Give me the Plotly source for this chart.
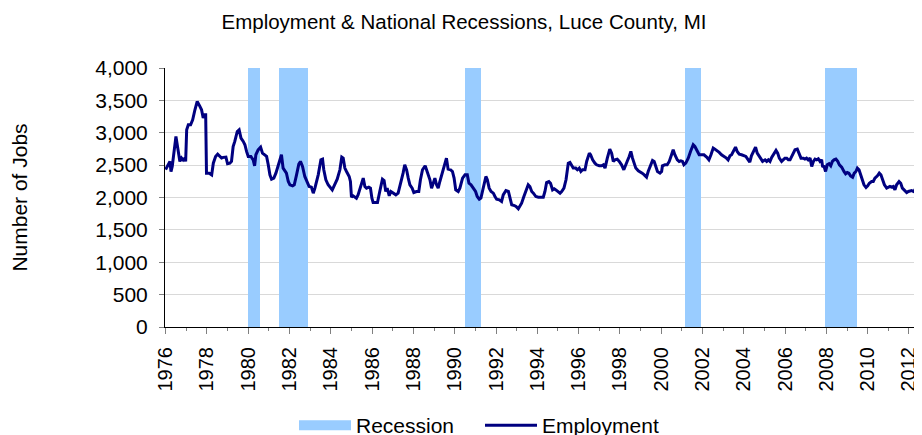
import plotly.graph_objects as go

# ---- data ----
emp_years = [
    1976.00, 1976.13, 1976.21, 1976.26, 1976.32, 1976.50, 1976.69, 1976.77, 1976.85, 1976.94,
    1976.97, 1977.02, 1977.10, 1977.21, 1977.31, 1977.42, 1977.53, 1977.66, 1977.74, 1977.82,
    1977.87, 1977.94, 1977.98, 1978.11, 1978.23, 1978.31, 1978.42, 1978.52, 1978.63, 1978.71,
    1978.79, 1978.92, 1979.00, 1979.11, 1979.19, 1979.27, 1979.35, 1979.47, 1979.56, 1979.65,
    1979.76, 1979.84, 1979.92, 1980.00, 1980.13, 1980.24, 1980.31, 1980.37, 1980.48, 1980.60,
    1980.69, 1980.81, 1980.89, 1980.97, 1981.05, 1981.13, 1981.24, 1981.34, 1981.45, 1981.56,
    1981.61, 1981.69, 1981.77, 1981.85, 1981.94, 1982.02, 1982.15, 1982.23, 1982.34, 1982.45,
    1982.53, 1982.63, 1982.74, 1982.85, 1982.95, 1983.06, 1983.15, 1983.23, 1983.39, 1983.52,
    1983.60, 1983.66, 1983.76, 1983.87, 1983.99, 1984.07, 1984.16, 1984.31, 1984.44, 1984.53,
    1984.60, 1984.68, 1984.76, 1984.89, 1984.95, 1985.00, 1985.08, 1985.16, 1985.24, 1985.32,
    1985.45, 1985.57, 1985.65, 1985.73, 1985.84, 1985.92, 1985.99, 1986.05, 1986.18, 1986.26,
    1986.37, 1986.50, 1986.58, 1986.66, 1986.73, 1986.83, 1986.91, 1987.02, 1987.15, 1987.26,
    1987.39, 1987.50, 1987.58, 1987.67, 1987.75, 1987.83, 1987.94, 1988.02, 1988.15, 1988.26,
    1988.34, 1988.44, 1988.57, 1988.63, 1988.71, 1988.80, 1988.88, 1988.96, 1989.04, 1989.12,
    1989.20, 1989.28, 1989.41, 1989.52, 1989.60, 1989.68, 1989.80, 1989.89, 1989.97, 1990.05,
    1990.17, 1990.25, 1990.38, 1990.50, 1990.61, 1990.69, 1990.79, 1990.90, 1991.01, 1991.09,
    1991.19, 1991.27, 1991.38, 1991.51, 1991.58, 1991.67, 1991.76, 1991.87, 1991.95, 1992.03,
    1992.16, 1992.27, 1992.35, 1992.48, 1992.60, 1992.68, 1992.76, 1992.89, 1992.97, 1993.08,
    1993.16, 1993.24, 1993.35, 1993.45, 1993.56, 1993.64, 1993.73, 1993.81, 1993.93, 1994.05,
    1994.16, 1994.29, 1994.37, 1994.45, 1994.56, 1994.64, 1994.74, 1994.82, 1994.90, 1994.98,
    1995.10, 1995.18, 1995.29, 1995.39, 1995.50, 1995.58, 1995.66, 1995.74, 1995.86, 1995.94,
    1996.03, 1996.11, 1996.19, 1996.31, 1996.39, 1996.52, 1996.58, 1996.68, 1996.79, 1996.87,
    1997.00, 1997.11, 1997.20, 1997.28, 1997.39, 1997.51, 1997.60, 1997.68, 1997.76, 1997.87,
    1997.97, 1998.08, 1998.19, 1998.27, 1998.35, 1998.45, 1998.53, 1998.61, 1998.69, 1998.77,
    1998.89, 1998.97, 1999.08, 1999.18, 1999.29, 1999.37, 1999.45, 1999.58, 1999.66, 1999.74,
    1999.82, 1999.94, 2000.02, 2000.06, 2000.18, 2000.29, 2000.39, 2000.50, 2000.58, 2000.66,
    2000.78, 2000.87, 2000.95, 2001.03, 2001.10, 2001.19, 2001.31, 2001.42, 2001.55, 2001.63,
    2001.74, 2001.84, 2001.95, 2002.07, 2002.20, 2002.31, 2002.41, 2002.52, 2002.60, 2002.71,
    2002.81, 2002.92, 2003.00, 2003.08, 2003.16, 2003.24, 2003.33, 2003.41, 2003.52, 2003.60,
    2003.68, 2003.78, 2003.89, 2004.00, 2004.10, 2004.18, 2004.29, 2004.37, 2004.49, 2004.57,
    2004.65, 2004.75, 2004.82, 2004.91, 2005.03, 2005.11, 2005.19, 2005.27, 2005.35, 2005.46,
    2005.56, 2005.64, 2005.72, 2005.83, 2005.91, 2005.99, 2006.08, 2006.16, 2006.24, 2006.32,
    2006.40, 2006.48, 2006.59, 2006.69, 2006.77, 2006.88, 2006.96, 2007.04, 2007.12, 2007.21,
    2007.29, 2007.37, 2007.45, 2007.53, 2007.61, 2007.69, 2007.77, 2007.82, 2007.88, 2007.96,
    2008.04, 2008.13, 2008.21, 2008.29, 2008.37, 2008.46, 2008.55, 2008.63, 2008.74, 2008.85,
    2008.93, 2009.01, 2009.09, 2009.17, 2009.27, 2009.35, 2009.43, 2009.50, 2009.58, 2009.66,
    2009.74, 2009.82, 2009.92, 2010.00, 2010.08, 2010.19, 2010.27, 2010.35, 2010.47, 2010.56,
    2010.64, 2010.72, 2010.81, 2010.92, 2011.00, 2011.08, 2011.16, 2011.24, 2011.32, 2011.40,
    2011.52, 2011.60, 2011.68, 2011.77, 2011.89, 2011.97, 2012.05, 2012.13, 2012.21, 2012.29,
    2012.37, 2012.45, 2012.53, 2012.61,
]

emp_jobs = [
    2430, 2505, 2557, 2400, 2480, 2943, 2557, 2610, 2580, 2610,
    2557, 3046, 3123, 3123, 3200, 3355, 3485, 3407, 3355, 3227,
    3278, 3278, 2376, 2376, 2350, 2530, 2634, 2670, 2634, 2610,
    2620, 2625, 2521, 2530, 2557, 2788, 2866, 3020, 3046, 2918,
    2866, 2815, 2712, 2634, 2634, 2582, 2490, 2660, 2737, 2778,
    2685, 2660, 2634, 2505, 2350, 2283, 2299, 2376, 2505, 2634,
    2660, 2454, 2402, 2376, 2247, 2196, 2180, 2196, 2350, 2515,
    2557, 2480, 2325, 2232, 2170, 2160, 2067, 2144, 2350, 2582,
    2593, 2428, 2273, 2196, 2144, 2118, 2180, 2283, 2428, 2624,
    2608, 2454, 2402, 2325, 2247, 2005, 2026, 2000, 1990, 2041,
    2196, 2299, 2170, 2144, 2160, 2144, 1990, 1923, 1923, 1923,
    2093, 2283, 2263, 2093, 2144, 2026, 2093, 2067, 2041, 2067,
    2221, 2376, 2505, 2428, 2299, 2196, 2144, 2077, 2093, 2093,
    2273, 2428, 2490, 2428, 2350, 2273, 2144, 2221, 2299, 2196,
    2144, 2247, 2402, 2557, 2608, 2438, 2428, 2402, 2300, 2118,
    2093, 2144, 2299, 2350, 2350, 2221, 2196, 2144, 2093, 2015,
    1974, 1990, 2144, 2325, 2273, 2144, 2093, 2067, 2015, 1974,
    1964, 1938, 2041, 2108, 2093, 1990, 1887, 1876, 1861, 1825,
    1861, 1912, 2015, 2118, 2196, 2170, 2093, 2067, 2015, 2005,
    2005, 2005, 2093, 2232, 2247, 2221, 2118, 2134, 2118, 2093,
    2067, 2093, 2144, 2273, 2530, 2541, 2505, 2454, 2454, 2428,
    2454, 2402, 2428, 2428, 2557, 2685, 2660, 2582, 2530, 2505,
    2490, 2490, 2505, 2454, 2608, 2747, 2685, 2557, 2582, 2593,
    2557, 2505, 2428, 2480, 2557, 2634, 2711, 2608, 2530, 2454,
    2412, 2402, 2376, 2350, 2314, 2402, 2480, 2572, 2557, 2480,
    2402, 2376, 2402, 2490, 2505, 2505, 2557, 2660, 2737, 2660,
    2582, 2557, 2567, 2557, 2505, 2530, 2608, 2711, 2815, 2788,
    2711, 2660, 2660, 2660, 2624, 2582, 2660, 2763, 2747, 2727,
    2696, 2660, 2644, 2624, 2608, 2582, 2644, 2660, 2737, 2778,
    2711, 2670, 2660, 2650, 2634, 2598, 2546, 2644, 2737, 2778,
    2685, 2634, 2608, 2557, 2582, 2557, 2582, 2557, 2618, 2685,
    2727, 2685, 2608, 2557, 2582, 2608, 2608, 2582, 2582, 2634,
    2711, 2737, 2747, 2660, 2608, 2608, 2593, 2608, 2582, 2608,
    2480, 2557, 2593, 2582, 2598, 2557, 2582, 2469, 2490, 2402,
    2505, 2521, 2490, 2557, 2582, 2593, 2557, 2505, 2469, 2402,
    2366, 2386, 2376, 2335, 2314, 2376, 2402, 2454, 2428, 2350,
    2263, 2196, 2155, 2180, 2221, 2247, 2247, 2299, 2335, 2376,
    2350, 2273, 2196, 2144, 2155, 2170, 2160, 2170, 2118, 2196,
    2247, 2221, 2144, 2108, 2077, 2093, 2103, 2108, 2093, 2118,
    2196, 2232, 2211, 2232,
]

rec_start = [1980.00, 1981.50, 1990.50, 2001.17, 2007.92]
rec_end = [1980.58, 1982.90, 1991.25, 2001.92, 2009.50]
rec_level = [4000, 4000, 4000, 4000, 4000]

x_ticks = list(range(1976, 2013, 2))
x_labels = [str(v) for v in x_ticks]
y_ticks = [0, 500, 1000, 1500, 2000, 2500, 3000, 3500, 4000]
y_labels = [f"{v:,}" for v in y_ticks]

FONT = "Liberation Sans, Arial, sans-serif"
W, H = 914, 427  # page body has an 8px margin; 8 + 914 = 922, 8 + 427 = 435

fig = go.Figure()
fig.add_trace(go.Bar(
    x=[(s + e) / 2 for s, e in zip(rec_start, rec_end)],
    y=rec_level,
    width=[e - s for s, e in zip(rec_start, rec_end)],
    marker=dict(color="#99CCFF", line=dict(width=0)),
    showlegend=False,
    hoverinfo="skip",
    name="Recession",
))
fig.add_trace(go.Scatter(
    x=[None], y=[None], mode="lines",
    line=dict(color="#99CCFF", width=11),
    name="Recession",
))
fig.add_trace(go.Scatter(
    x=emp_years, y=emp_jobs, mode="lines",
    line=dict(color="#000080", width=3),
    name="Employment",
))

fig.update_layout(
    width=W, height=H,
    margin=dict(l=157, r=0, t=60, b=108, autoexpand=False),
    paper_bgcolor="white", plot_bgcolor="white",
    font=dict(family=FONT, color="black", size=21),
    title=dict(
        text="Employment & National Recessions, Luce County, MI",
        font=dict(family=FONT, size=20.5, color="black"),
        x=456 / W, xref="container", xanchor="center",
        y=1 - 14 / H, yref="container", yanchor="middle",
    ),
    bargap=0,
    showlegend=True,
    legend=dict(
        orientation="h",
        x=286 / W, xref="container", xanchor="left",
        y=1 - 397 / H, yref="container", yanchor="top",
        font=dict(family=FONT, size=21, color="black"),
        itemwidth=52,
        entrywidth=119, entrywidthmode="pixels",
        bgcolor="rgba(0,0,0,0)",
    ),
    xaxis=dict(
        range=[1975.97, 2012.63],
        automargin=False,
        tickvals=x_ticks, ticktext=x_labels,
        tickangle=-90,
        ticklabelstandoff=5,
        tickfont=dict(family=FONT, size=20, color="black"),
        ticks="outside", ticklen=6, tickcolor="#808080",
        minor=dict(dtick=1, tick0=1976, ticks="outside", ticklen=3, tickcolor="#808080", showgrid=False),
        showline=True, linecolor="black", linewidth=1,
        showgrid=False, zeroline=False,
    ),
    yaxis=dict(
        range=[0, 4000],
        automargin=False,
        tickvals=y_ticks, ticktext=y_labels,
        ticklabelstandoff=7,
        tickfont=dict(family=FONT, size=21, color="black"),
        ticks="outside", ticklen=5, tickcolor="#808080",
        showline=True, linecolor="black", linewidth=1,
        showgrid=True, gridcolor="#D9D9D9", gridwidth=1,
        zeroline=False,
        title=dict(text="Number of Jobs", font=dict(family=FONT, size=21, color="black"), standoff=62),
    ),
)

fig.write_html("out.html")
